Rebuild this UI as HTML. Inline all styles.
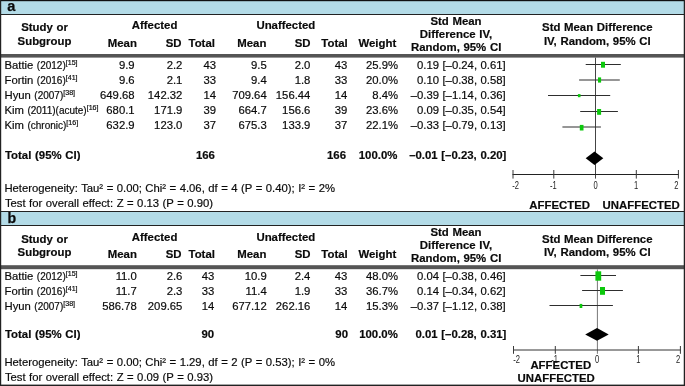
<!DOCTYPE html>
<html lang="en">
<head>
<meta charset="utf-8">
<title>Forest plot</title>
<style>
html,body{margin:0;padding:0;background:#fff;}
svg{display:block;will-change:transform;}
text{font-family:"Liberation Sans", Arial, Helvetica, sans-serif;}
</style>
</head>
<body>
<svg width="685" height="386" viewBox="0 0 685 386" font-family='"Liberation Sans", Arial, Helvetica, sans-serif' >
<rect x="0" y="0" width="685" height="386" fill="#fff"/>
<rect x="0" y="0" width="685" height="15" fill="#b3dbe7"/>
<rect x="0" y="211" width="685" height="15" fill="#b3dbe7"/>
<rect x="0" y="0" width="685" height="1.2" fill="#111"/>
<line x1="0" y1="14.5" x2="685" y2="14.5" stroke="#222" stroke-width="1"/>
<line x1="0" y1="211.5" x2="685" y2="211.5" stroke="#222" stroke-width="1"/>
<line x1="0" y1="225.5" x2="685" y2="225.5" stroke="#222" stroke-width="1"/>
<rect x="0" y="54" width="685" height="3.6" fill="#555"/>
<rect x="0" y="265.2" width="685" height="4" fill="#555"/>
<rect x="0" y="0" width="1.2" height="386" fill="#222"/>
<rect x="683.75" y="0" width="1.25" height="386" fill="#222"/>
<rect x="0" y="384.6" width="685" height="1.4" fill="#222"/>
<line x1="595.5" y1="57.6" x2="595.5" y2="178.6" stroke="#444" stroke-width="1"/>
<line x1="585.7" y1="64.5" x2="620.8" y2="64.5" stroke="#2e2e2e" stroke-width="1.2"/>
<line x1="579.1" y1="80.0" x2="619.8" y2="80.0" stroke="#2e2e2e" stroke-width="1.2"/>
<line x1="548" y1="95.5" x2="610.2" y2="95.5" stroke="#2e2e2e" stroke-width="1.2"/>
<line x1="580.2" y1="111.5" x2="617.9" y2="111.5" stroke="#2e2e2e" stroke-width="1.2"/>
<line x1="562.4" y1="127.0" x2="600.9" y2="127.0" stroke="#2e2e2e" stroke-width="1.2"/>
<rect x="601" y="61.8" width="4" height="5.9" fill="#0cc80c"/>
<rect x="598" y="77.4" width="3.1" height="5.2" fill="#0cc80c"/>
<rect x="577.9" y="94.1" width="2.6" height="3.1" fill="#0cc80c"/>
<rect x="597.1" y="109" width="4" height="5.8" fill="#0cc80c"/>
<rect x="579.8" y="124.9" width="3.7" height="5.6" fill="#0cc80c"/>
<polygon points="585.7,158.2 594.5,151.5 603.3,158.2 594.5,164.9" fill="#000"/>
<line x1="512.5" y1="174.5" x2="678.9" y2="174.5" stroke="#222" stroke-width="1"/>
<line x1="513" y1="170" x2="513" y2="178.6" stroke="#3a3a3a" stroke-width="1"/>
<line x1="553.8" y1="170" x2="553.8" y2="178.6" stroke="#3a3a3a" stroke-width="1"/>
<line x1="636.3" y1="170" x2="636.3" y2="178.6" stroke="#3a3a3a" stroke-width="1"/>
<line x1="678.4" y1="170" x2="678.4" y2="178.6" stroke="#3a3a3a" stroke-width="1"/>
<line x1="597.4" y1="269.4" x2="597.4" y2="353.8" stroke="#777" stroke-width="1"/>
<line x1="580.4" y1="275.5" x2="616" y2="275.5" stroke="#2e2e2e" stroke-width="1.2"/>
<line x1="582.1" y1="290.5" x2="622.9" y2="290.5" stroke="#2e2e2e" stroke-width="1.2"/>
<line x1="549.5" y1="305.5" x2="612.9" y2="305.5" stroke="#2e2e2e" stroke-width="1.2"/>
<rect x="595.4" y="271.3" width="5.8" height="9.4" fill="#0cc80c"/>
<rect x="600" y="287" width="5" height="7.8" fill="#0cc80c"/>
<rect x="579.6" y="303.9" width="2.7" height="4.1" fill="#0cc80c"/>
<polygon points="585.2,334.4 597,328.05 608.7,334.4 597,340.75" fill="#000"/>
<line x1="513.0" y1="350" x2="680.9" y2="350" stroke="#333" stroke-width="1"/>
<line x1="513.5" y1="346" x2="513.5" y2="353.8" stroke="#3a3a3a" stroke-width="1"/>
<line x1="555.3" y1="346" x2="555.3" y2="353.8" stroke="#3a3a3a" stroke-width="1"/>
<line x1="638.4" y1="346" x2="638.4" y2="353.8" stroke="#3a3a3a" stroke-width="1"/>
<line x1="680.4" y1="346" x2="680.4" y2="353.8" stroke="#3a3a3a" stroke-width="1"/>
<g font-size="11.3" word-spacing="0.3" fill="#0a0a0a" stroke="#0a0a0a" stroke-width="0.18">
<text x="7.3" y="11" font-size="14.6" word-spacing="0.5" font-weight="bold" stroke="#111" stroke-width="0.25">a</text>
<text x="7.4" y="223.3" font-size="14.2" word-spacing="0.5" font-weight="bold" stroke="#111" stroke-width="0.25">b</text>
<text x="44.5" y="31.2" font-size="11.4" word-spacing="0.5" font-weight="bold" text-anchor="middle">Study or</text>
<text x="44.5" y="44.6" font-size="11.4" word-spacing="0.5" font-weight="bold" text-anchor="middle">Subgroup</text>
<text x="154.6" y="29" font-size="11.4" word-spacing="0.5" font-weight="bold" text-anchor="middle">Affected</text>
<text x="285.85" y="29" font-size="11.4" word-spacing="0.5" font-weight="bold" text-anchor="middle">Unaffected</text>
<text x="136.9" y="46.9" font-size="11.4" word-spacing="0.5" font-weight="bold" text-anchor="end">Mean</text>
<text x="181.5" y="46.9" font-size="11.4" word-spacing="0.5" font-weight="bold" text-anchor="end">SD</text>
<text x="214.9" y="46.9" font-size="11.4" word-spacing="0.5" font-weight="bold" text-anchor="end">Total</text>
<text x="266.4" y="46.9" font-size="11.4" word-spacing="0.5" font-weight="bold" text-anchor="end">Mean</text>
<text x="310.5" y="46.9" font-size="11.4" word-spacing="0.5" font-weight="bold" text-anchor="end">SD</text>
<text x="347.7" y="46.9" font-size="11.4" word-spacing="0.5" font-weight="bold" text-anchor="end">Total</text>
<text x="396.2" y="46.9" font-size="11.4" word-spacing="0.5" font-weight="bold" text-anchor="end">Weight</text>
<text x="456" y="24.9" font-size="11.4" word-spacing="0.5" font-weight="bold" text-anchor="middle">Std Mean</text>
<text x="456" y="37.8" font-size="11.4" word-spacing="0.5" font-weight="bold" text-anchor="middle">Difference IV,</text>
<text x="456.2" y="50.8" font-size="11.4" word-spacing="0.5" font-weight="bold" text-anchor="middle">Random, 95% CI</text>
<text x="597.3" y="31.4" font-size="11.4" word-spacing="0.5" font-weight="bold" text-anchor="middle">Std Mean Difference</text>
<text x="597.3" y="44.7" font-size="11.4" word-spacing="0.5" font-weight="bold" text-anchor="middle">IV, Random, 95% CI</text>
<text x="44.5" y="242.7" font-size="11.4" word-spacing="0.5" font-weight="bold" text-anchor="middle">Study or</text>
<text x="44.5" y="256.1" font-size="11.4" word-spacing="0.5" font-weight="bold" text-anchor="middle">Subgroup</text>
<text x="154.6" y="240.5" font-size="11.4" word-spacing="0.5" font-weight="bold" text-anchor="middle">Affected</text>
<text x="285.85" y="240.5" font-size="11.4" word-spacing="0.5" font-weight="bold" text-anchor="middle">Unaffected</text>
<text x="136.9" y="258.4" font-size="11.4" word-spacing="0.5" font-weight="bold" text-anchor="end">Mean</text>
<text x="181.5" y="258.4" font-size="11.4" word-spacing="0.5" font-weight="bold" text-anchor="end">SD</text>
<text x="214.9" y="258.4" font-size="11.4" word-spacing="0.5" font-weight="bold" text-anchor="end">Total</text>
<text x="266.4" y="258.4" font-size="11.4" word-spacing="0.5" font-weight="bold" text-anchor="end">Mean</text>
<text x="310.5" y="258.4" font-size="11.4" word-spacing="0.5" font-weight="bold" text-anchor="end">SD</text>
<text x="347.7" y="258.4" font-size="11.4" word-spacing="0.5" font-weight="bold" text-anchor="end">Total</text>
<text x="396.2" y="258.4" font-size="11.4" word-spacing="0.5" font-weight="bold" text-anchor="end">Weight</text>
<text x="456" y="236.4" font-size="11.4" word-spacing="0.5" font-weight="bold" text-anchor="middle">Std Mean</text>
<text x="456" y="249.3" font-size="11.4" word-spacing="0.5" font-weight="bold" text-anchor="middle">Difference IV,</text>
<text x="456.2" y="262.3" font-size="11.4" word-spacing="0.5" font-weight="bold" text-anchor="middle">Random, 95% CI</text>
<text x="597.3" y="242.9" font-size="11.4" word-spacing="0.5" font-weight="bold" text-anchor="middle">Std Mean Difference</text>
<text x="597.3" y="256.2" font-size="11.4" word-spacing="0.5" font-weight="bold" text-anchor="middle">IV, Random, 95% CI</text>
<text x="4.5" y="68.6">Battie <tspan font-size="10">(2012)</tspan><tspan font-size="7.1" dy="-4">[15]</tspan></text>
<text x="134.6" y="68.6" text-anchor="end">9.9</text>
<text x="182.4" y="68.6" text-anchor="end">2.2</text>
<text x="216" y="68.6" text-anchor="end">43</text>
<text x="266.7" y="68.6" text-anchor="end">9.5</text>
<text x="310.4" y="68.6" text-anchor="end">2.0</text>
<text x="347.3" y="68.6" text-anchor="end">43</text>
<text x="398.1" y="68.6" text-anchor="end">25.9%</text>
<text x="505.6" y="68.6" text-anchor="end">0.19 [–0.24, 0.61]</text>
<text x="4.5" y="83.65">Fortin <tspan font-size="10">(2016)</tspan><tspan font-size="7.1" dy="-4">[41]</tspan></text>
<text x="134.6" y="83.65" text-anchor="end">9.6</text>
<text x="182.4" y="83.65" text-anchor="end">2.1</text>
<text x="216" y="83.65" text-anchor="end">33</text>
<text x="266.7" y="83.65" text-anchor="end">9.4</text>
<text x="310.4" y="83.65" text-anchor="end">1.8</text>
<text x="347.3" y="83.65" text-anchor="end">33</text>
<text x="398.1" y="83.65" text-anchor="end">20.0%</text>
<text x="505.6" y="83.65" text-anchor="end">0.10 [–0.38, 0.58]</text>
<text x="4.5" y="98.7">Hyun <tspan font-size="10">(2007)</tspan><tspan font-size="7.1" dy="-4">[38]</tspan></text>
<text x="134.6" y="98.7" text-anchor="end">649.68</text>
<text x="182.4" y="98.7" text-anchor="end">142.32</text>
<text x="216" y="98.7" text-anchor="end">14</text>
<text x="266.7" y="98.7" text-anchor="end">709.64</text>
<text x="310.4" y="98.7" text-anchor="end">156.44</text>
<text x="347.3" y="98.7" text-anchor="end">14</text>
<text x="398.1" y="98.7" text-anchor="end">8.4%</text>
<text x="505.6" y="98.7" text-anchor="end">–0.39 [–1.14, 0.36]</text>
<text x="4.5" y="113.75">Kim <tspan font-size="10">(2011)(acute)</tspan><tspan font-size="7.1" dy="-4">[16]</tspan></text>
<text x="134.6" y="113.75" text-anchor="end">680.1</text>
<text x="182.4" y="113.75" text-anchor="end">171.9</text>
<text x="216" y="113.75" text-anchor="end">39</text>
<text x="266.7" y="113.75" text-anchor="end">664.7</text>
<text x="310.4" y="113.75" text-anchor="end">156.6</text>
<text x="347.3" y="113.75" text-anchor="end">39</text>
<text x="398.1" y="113.75" text-anchor="end">23.6%</text>
<text x="505.6" y="113.75" text-anchor="end">0.09 [–0.35, 0.54]</text>
<text x="4.5" y="128.8">Kim <tspan font-size="10">(chronic)</tspan><tspan font-size="7.1" dy="-4">[16]</tspan></text>
<text x="134.6" y="128.8" text-anchor="end">632.9</text>
<text x="182.4" y="128.8" text-anchor="end">123.0</text>
<text x="216" y="128.8" text-anchor="end">37</text>
<text x="266.7" y="128.8" text-anchor="end">675.3</text>
<text x="310.4" y="128.8" text-anchor="end">133.9</text>
<text x="347.3" y="128.8" text-anchor="end">37</text>
<text x="398.1" y="128.8" text-anchor="end">22.1%</text>
<text x="505.6" y="128.8" text-anchor="end">–0.33 [–0.79, 0.13]</text>
<text x="5" y="159.1" font-size="11.4" word-spacing="0.5" font-weight="bold">Total (95% CI)</text>
<text x="214.9" y="159.1" font-size="11.4" word-spacing="0.5" font-weight="bold" text-anchor="end">166</text>
<text x="346" y="159.1" font-size="11.4" word-spacing="0.5" font-weight="bold" text-anchor="end">166</text>
<text x="397.4" y="159.1" font-size="11.4" word-spacing="0.5" font-weight="bold" text-anchor="end">100.0%</text>
<text x="506.4" y="159.1" font-size="11.4" word-spacing="0.5" font-weight="bold" text-anchor="end">–0.01 [–0.23, 0.20]</text>
<text x="4.4" y="191.8" word-spacing="0.36">Heterogeneity: Tau² = 0.00; Chi² = 4.06, df = 4 (P = 0.40); I² = 2%</text>
<text x="4.9" y="206.6" word-spacing="0.36">Test for overall effect: Z = 0.13 (P = 0.90)</text>
<text x="4.5" y="280.1">Battie <tspan font-size="10">(2012)</tspan><tspan font-size="7.1" dy="-4">[15]</tspan></text>
<text x="136.8" y="280.1" text-anchor="end">11.0</text>
<text x="182.4" y="280.1" text-anchor="end">2.6</text>
<text x="214.4" y="280.1" text-anchor="end">43</text>
<text x="266.7" y="280.1" text-anchor="end">10.9</text>
<text x="310.4" y="280.1" text-anchor="end">2.4</text>
<text x="347.3" y="280.1" text-anchor="end">43</text>
<text x="398.1" y="280.1" text-anchor="end">48.0%</text>
<text x="505.6" y="280.1" text-anchor="end">0.04 [–0.38, 0.46]</text>
<text x="4.5" y="294.9">Fortin <tspan font-size="10">(2016)</tspan><tspan font-size="7.1" dy="-4">[41]</tspan></text>
<text x="136.8" y="294.9" text-anchor="end">11.7</text>
<text x="182.4" y="294.9" text-anchor="end">2.3</text>
<text x="214.4" y="294.9" text-anchor="end">33</text>
<text x="266.7" y="294.9" text-anchor="end">11.4</text>
<text x="310.4" y="294.9" text-anchor="end">1.9</text>
<text x="347.3" y="294.9" text-anchor="end">33</text>
<text x="398.1" y="294.9" text-anchor="end">36.7%</text>
<text x="505.6" y="294.9" text-anchor="end">0.14 [–0.34, 0.62]</text>
<text x="4.5" y="309.7">Hyun <tspan font-size="10">(2007)</tspan><tspan font-size="7.1" dy="-4">[38]</tspan></text>
<text x="136.8" y="309.7" text-anchor="end">586.78</text>
<text x="182.4" y="309.7" text-anchor="end">209.65</text>
<text x="214.4" y="309.7" text-anchor="end">14</text>
<text x="266.7" y="309.7" text-anchor="end">677.12</text>
<text x="310.4" y="309.7" text-anchor="end">262.16</text>
<text x="347.3" y="309.7" text-anchor="end">14</text>
<text x="398.1" y="309.7" text-anchor="end">15.3%</text>
<text x="505.6" y="309.7" text-anchor="end">–0.37 [–1.12, 0.38]</text>
<text x="5" y="337.7" font-size="11.4" word-spacing="0.5" font-weight="bold">Total (95% CI)</text>
<text x="214.2" y="337.7" font-size="11.4" word-spacing="0.5" font-weight="bold" text-anchor="end">90</text>
<text x="348" y="337.7" font-size="11.4" word-spacing="0.5" font-weight="bold" text-anchor="end">90</text>
<text x="397.8" y="337.7" font-size="11.4" word-spacing="0.5" font-weight="bold" text-anchor="end">100.0%</text>
<text x="506.4" y="337.7" font-size="11.4" word-spacing="0.5" font-weight="bold" text-anchor="end">0.01 [–0.28, 0.31]</text>
<text x="4.4" y="365.9" word-spacing="0.36">Heterogeneity: Tau² = 0.00; Chi² = 1.29, df = 2 (P = 0.53); I² = 0%</text>
<text x="4.9" y="380.7" word-spacing="0.36">Test for overall effect: Z = 0.09 (P = 0.93)</text>
<text transform="translate(512.3,188.8) scale(0.72,1)" font-size="10.5" text-anchor="start" fill="#222" stroke="none">-2</text>
<text transform="translate(553.4,188.8) scale(0.72,1)" font-size="10.5" text-anchor="middle" fill="#222" stroke="none">-1</text>
<text transform="translate(595.5,188.8) scale(0.72,1)" font-size="10.5" text-anchor="middle" fill="#222" stroke="none">0</text>
<text transform="translate(636,188.8) scale(0.72,1)" font-size="10.5" text-anchor="middle" fill="#222" stroke="none">1</text>
<text transform="translate(678.4,188.8) scale(0.72,1)" font-size="10.5" text-anchor="end" fill="#222" stroke="none">2</text>
<text transform="translate(513.3,363.4) scale(0.72,1)" font-size="10.5" text-anchor="start" fill="#222" stroke="none">-2</text>
<text transform="translate(554.6,363.4) scale(0.72,1)" font-size="10.5" text-anchor="middle" fill="#222" stroke="none">-1</text>
<text transform="translate(597,363.4) scale(0.72,1)" font-size="10.5" text-anchor="middle" fill="#222" stroke="none">0</text>
<text transform="translate(638.4,363.4) scale(0.72,1)" font-size="10.5" text-anchor="middle" fill="#222" stroke="none">1</text>
<text transform="translate(680.2,363.4) scale(0.72,1)" font-size="10.5" text-anchor="end" fill="#222" stroke="none">2</text>
<text x="529.3" y="208.6" font-size="11.4" word-spacing="0.5" font-weight="bold">AFFECTED</text>
<text x="602.6" y="208.6" font-size="11.4" word-spacing="0.5" font-weight="bold">UNAFFECTED</text>
<text x="530.4" y="369.3" font-size="11.4" word-spacing="0.5" font-weight="bold">AFFECTED</text>
<text x="517.6" y="382.2" font-size="11.4" word-spacing="0.5" font-weight="bold">UNAFFECTED</text>
</g>
</svg>
</body>
</html>
